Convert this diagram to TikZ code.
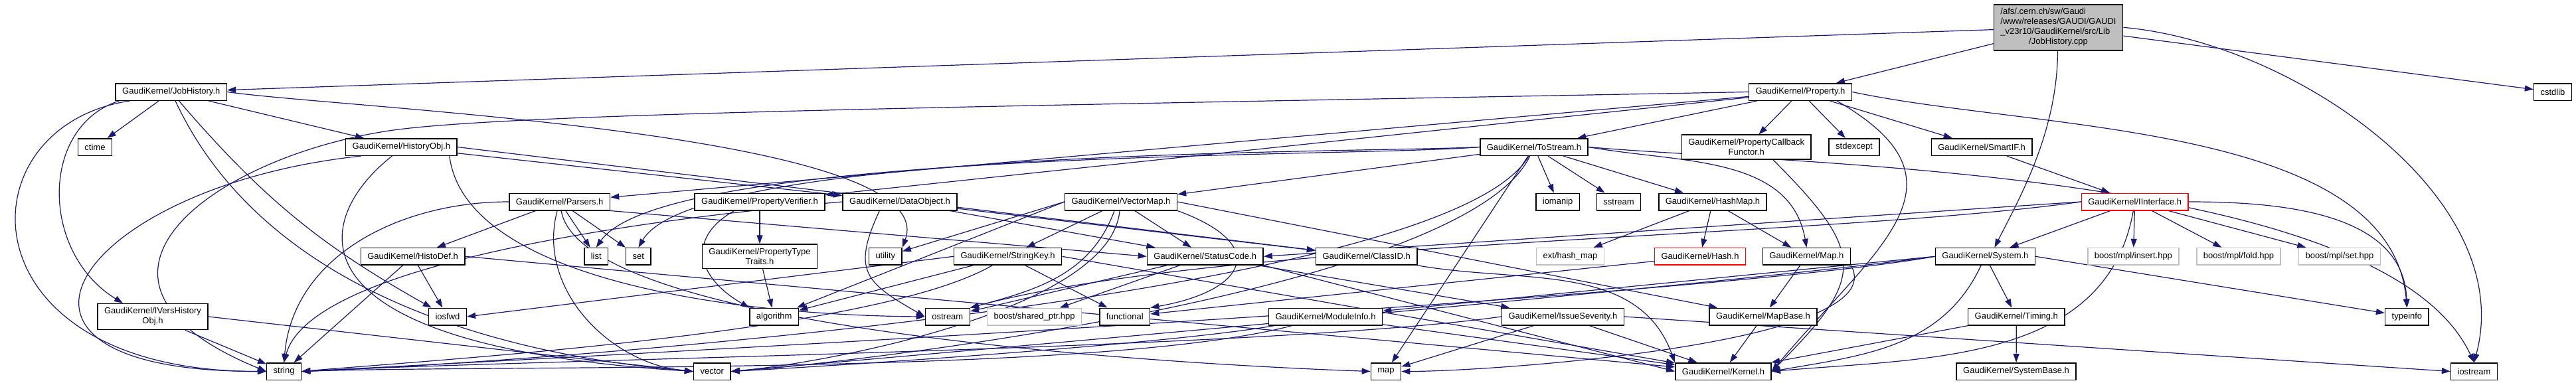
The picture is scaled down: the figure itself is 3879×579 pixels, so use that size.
\documentclass[tikz,border=0pt]{standalone}
\usepackage{fontspec}
\setmainfont{Liberation Sans}
\usetikzlibrary{arrows.meta,backgrounds}
\definecolor{depblue}{RGB}{25,25,112}
\definecolor{sysgray}{RGB}{191,191,191}

\begin{document}
\begin{tikzpicture}[x=0.5pt, y=-0.5pt,
		every node/.style={font=\fontsize{6.5}{7.5}\selectfont},
		hdr/.style={draw=black, line width=0.75pt, fill=white, inner xsep=5pt, inner ysep=0pt, minimum height=12.75pt},
		twoline/.style={hdr, align=center, inner ysep=3pt},
		sysinc/.style={hdr, draw=sysgray},
		trunc/.style={hdr, draw=red},
		dep/.style={depblue, line width=0.6pt, -{Triangle[length=6.5pt,width=4.5pt]}}]
		\useasboundingbox (0,0) rectangle (3879,579);

		% The source file
		\node[hdr, fill=sysgray, inner ysep=2.25pt] (root) at (3099.5,41.3)
			{\begin{tabular}{@{}l@{}}/afs/.cern.ch/sw/Gaudi\\/www/releases/GAUDI/GAUDI\\\_v23r10/GaudiKernel/src/Lib\\\multicolumn{1}{@{}c@{}}{/JobHistory.cpp}\end{tabular}};

		% Row 1
		\node[hdr] (jobhist) at (257.8,138.5) {GaudiKernel/JobHistory.h};
		\node[hdr] (prop) at (2711,138.5) {GaudiKernel/Property.h};
		\node[hdr] (cstdlib) at (3844,138.5) {cstdlib};

		% Row 2
		\node[hdr] (ctime) at (143,221.5) {ctime};
		\node[hdr] (histobj) at (604.4,221.5) {GaudiKernel/HistoryObj.h};
		\node[hdr] (tostream) at (2310,221.5) {GaudiKernel/ToStream.h};
		\node[twoline] (propcb) at (2629.7,221.5) {GaudiKernel/PropertyCallback\\Functor.h};
		\node[hdr] (stdexcept) at (2792,221.5) {stdexcept};
		\node[hdr] (smartif) at (2984,221.5) {GaudiKernel/SmartIF.h};

		% Row 3
		\node[hdr] (parsers) at (842.7,304) {GaudiKernel/Parsers.h};
		\node[hdr] (propverif) at (1144,304) {GaudiKernel/PropertyVerifier.h};
		\node[hdr] (dataobj) at (1355,304) {GaudiKernel/DataObject.h};
		\node[hdr] (vecmap) at (1688,304) {GaudiKernel/VectorMap.h};
		\node[hdr] (iomanip) at (2345.6,304) {iomanip};
		\node[hdr] (sstream) at (2437.5,304) {sstream};
		\node[hdr] (hashmap) at (2579,304) {GaudiKernel/HashMap.h};
		\node[trunc] (iiface) at (3214.7,304) {GaudiKernel/IInterface.h};

		% Row 4
		\node[hdr] (histodef) at (621.6,386.3) {GaudiKernel/HistoDef.h};
		\node[hdr] (list) at (897.7,386.3) {list};
		\node[hdr] (set) at (961.4,386.3) {set};
		\node[twoline] (proptt) at (1144,386.3) {GaudiKernel/PropertyType\\Traits.h};
		\node[hdr] (utility) at (1333.3,386.3) {utility};
		\node[hdr] (strkey) at (1517.6,386.3) {GaudiKernel/StringKey.h};
		\node[hdr] (statcode) at (1814.7,386.3) {GaudiKernel/StatusCode.h};
		\node[hdr] (classid) at (2057.7,386.3) {GaudiKernel/ClassID.h};
		\node[sysinc] (exthash) at (2364.5,386.3) {ext/hash\_map};
		\node[trunc] (hash) at (2560,386.3) {GaudiKernel/Hash.h};
		\node[hdr] (maph) at (2720.4,386.3) {GaudiKernel/Map.h};
		\node[hdr] (system) at (2989.4,386.3) {GaudiKernel/System.h};
		\node[sysinc] (mplinsert) at (3212.4,386.3) {boost/mpl/insert.hpp};
		\node[sysinc] (mplfold) at (3371,386.3) {boost/mpl/fold.hpp};
		\node[sysinc] (mplset) at (3522.9,386.3) {boost/mpl/set.hpp};

		% Row 5
		\node[twoline] (ivers) at (230,477) {GaudiKernel/IVersHistory\\Obj.h};
		\node[hdr] (iosfwd) at (674,477) {iosfwd};
		\node[hdr] (algorithm) at (1165.7,477) {algorithm};
		\node[hdr] (ostream) at (1426.8,477) {ostream};
		\node[sysinc] (sharedptr) at (1557.6,477) {boost/shared\_ptr.hpp};
		\node[hdr] (functional) at (1693.8,477) {functional};
		\node[hdr] (modinfo) at (1996,477) {GaudiKernel/ModuleInfo.h};
		\node[hdr] (issuesev) at (2353.4,477) {GaudiKernel/IssueSeverity.h};
		\node[hdr] (mapbase) at (2655,477) {GaudiKernel/MapBase.h};
		\node[hdr] (timing) at (3036.3,477) {GaudiKernel/Timing.h};
		\node[hdr] (typeinfo) at (3624.4,477) {typeinfo};

		% Row 6
		\node[hdr] (string) at (427.6,559.5) {string};
		\node[hdr] (vector) at (1072.3,559.5) {vector};
		\node[hdr] (map) at (2087,559.5) {map};
		\node[hdr] (kernel) at (2595,559.5) {GaudiKernel/Kernel.h};
		\node[hdr] (sysbase) at (3036,559.5) {GaudiKernel/SystemBase.h};
		\node[hdr] (iostream) at (3725.5,559.5) {iostream};

		\begin{scope}[on background layer]
		% Includes of the source file
		\draw[dep] (root) -- (jobhist);
		\draw[dep] (root) -- (prop);
		\draw[dep] ([xshift=-0.5pt]root.south) .. controls (3098,200) and (3040,300) .. ([xshift=7pt]system.north);
		\draw[dep] (root) -- (cstdlib);
		\draw[dep] (root.east) to[out=-5,in=75,looseness=0.9] (iostream.north);

		% JobHistory.h
		\draw[dep] (jobhist) -- (histobj);
		\draw[dep] (jobhist) -- (ctime);
		\draw[dep] (jobhist) to[bend right=10] (iosfwd);
		\draw[dep] (jobhist.east) to[out=-8,in=70,looseness=0.45] (utility.north east);
		\draw[dep] ([xshift=3pt]jobhist.south west) .. controls (60,190) and (60,380) .. ([xshift=-22.5pt]ivers.north);
		\draw[dep] ([xshift=11pt]jobhist.south west) .. controls (-60,190) and (-60,560) .. (string.west);
		\draw[dep] (jobhist) to[out=-65,in=175,looseness=0.9] (vector.west);

		% HistoryObj.h
		\draw[dep] (histobj) -- (dataobj);
		\draw[dep] (histobj.east) -- (classid);
		\draw[dep] ([xshift=12pt]histobj.south west) .. controls (120,280) and (-80,560) .. (string.west);
		\draw[dep] ([xshift=-7pt]histobj.south) .. controls (470,330) and (420,520) .. (vector.west);
		\draw[dep] ([xshift=-6pt]histobj.south east) .. controls (700,420) and (1100,475) .. (ostream.west);

		% IVersHistoryObj.h
		\draw[dep] (ivers) -- (string);
		\draw[dep] (ivers.east) -- (vector.west);

		% Property.h
		\draw[dep] (prop) -- (tostream);
		\draw[dep] (prop) -- (parsers);
		\draw[dep] (prop) -- (propverif);
		\draw[dep] (prop) -- (propcb);
		\draw[dep] (prop) -- (stdexcept);
		\draw[dep] (prop) -- (smartif);
		\draw[dep] (prop.west) .. controls (1500,160) and (800,170) .. (600,195)
			.. controls (330,230) and (60,420) .. (string.west);
		\draw[dep] ([xshift=27.5pt]prop.south) to[out=-30,in=50,looseness=1.5] (kernel.east);
		\draw[dep] (prop.east) to[out=-12,in=95,looseness=0.8] (typeinfo.north);

		% ToStream.h
		\draw[dep] (tostream) -- (iomanip);
		\draw[dep] (tostream) -- (sstream);
		\draw[dep] (tostream) -- (hashmap);
		\draw[dep] (tostream) -- (vecmap);
		\draw[dep] (tostream) -- (map);
		\draw[dep] (tostream.west) to[out=185,in=55,looseness=0.35] (list.north);
		\draw[dep] (tostream.west) to[out=183,in=60,looseness=0.35] (set.north);
		\draw[dep] (tostream.east) to[out=-10,in=100] (maph.north);
		\draw[dep] (tostream.east) to[out=-5,in=115,looseness=0.6] (iostream.north);
		\draw[dep] (tostream) to[out=-120,in=2,looseness=0.35] (string.east);
		\draw[dep] (tostream) to[out=-115,in=4,looseness=0.45] (vector.east);

		% Parsers.h
		\draw[dep] (parsers) -- (histodef);
		\draw[dep] (parsers) -- (list);
		\draw[dep] (parsers) -- (set);
		\draw[dep] (parsers.south east) -- (statcode.west);
		\draw[dep] (parsers.west) to[out=180,in=85] (string.north);
		\draw[dep] (parsers) to[out=-105,in=175] (vector.west);
		\draw[dep] (parsers) to[out=-80,in=178,looseness=0.4] (map.west);

		% HistoDef.h
		\draw[dep] (histodef) -- (iosfwd);
		\draw[dep] (histodef) -- (string);
		\draw[dep] (histodef.east) -- (kernel);

		% PropertyVerifier.h and PropertyTypeTraits.h
		\draw[dep] (propverif) -- (proptt);
		\draw[dep] ([xshift=30pt]propverif.south west) to[out=-150,in=150,looseness=1.5] (algorithm.north west);
		\draw[dep] (proptt) -- (algorithm);

		% DataObject.h
		\draw[dep] (dataobj) -- (classid);
		\draw[dep] (dataobj) -- (statcode);
		\draw[dep] (dataobj.west) to[out=185,in=75,looseness=0.5] (string.north);
		\draw[dep] ([xshift=28pt]dataobj.south west) to[out=-115,in=150,looseness=1.5] (ostream.west);

		% VectorMap.h
		\draw[dep] (vecmap) -- (strkey);
		\draw[dep] (vecmap) -- (statcode);
		\draw[dep] (vecmap.west) -- (utility);
		\draw[dep] (vecmap.west) -- (algorithm);
		\draw[dep] (vecmap.east) -- (mapbase);
		\draw[dep] ([xshift=-5pt]vecmap.south) to[out=-110,in=15] (ostream.north east);
		\draw[dep] ([xshift=-1pt]vecmap.south) to[out=-95,in=5,looseness=0.6] (vector.east);
		\draw[dep] (vecmap.south east) to[out=-20,in=10,looseness=2.5] (functional.north east);

		% StringKey.h
		\draw[dep] (strkey) -- (functional);
		\draw[dep] (strkey) -- (algorithm);
		\draw[dep] (strkey.west) -- (iosfwd.east);
		\draw[dep] (strkey) to[out=-150,in=5,looseness=0.5] (string.east);
		\draw[dep] (strkey.east) -- (kernel);

		% StatusCode.h
		\draw[dep] (statcode) -- (issuesev);
		\draw[dep] (statcode) -- (sharedptr);
		\draw[dep] (statcode) -- (ostream);
		\draw[dep] (statcode.south east) -- (kernel.west);

		% IssueSeverity.h
		\draw[dep] (issuesev) -- (map);
		\draw[dep] (issuesev) -- (kernel);
		\draw[dep] (issuesev.west) to[out=188,in=3,looseness=0.5] (string.east);
		\draw[dep] (issuesev.east) -- (iostream.west);

		% ModuleInfo.h
		\draw[dep] (modinfo) -- (kernel);
		\draw[dep] (modinfo) to[out=-165,in=2,looseness=0.5] (string.east);
		\draw[dep] (modinfo) to[out=-170,in=3,looseness=0.5] (vector.east);

		% ClassID.h, maps and hashes
		\draw[dep] (classid) to[out=-10,in=110] (kernel.north west);
		\draw[dep] (hashmap) -- (exthash);
		\draw[dep] (hashmap) -- (hash);
		\draw[dep] (hashmap) -- (maph);
		\draw[dep] (hash) -- (functional);
		\draw[dep] (maph) -- (mapbase);
		\draw[dep] (maph.south east) to[out=-60,in=0,looseness=0.5] (map.east);
		\draw[dep] (mapbase) -- (kernel);
		\draw[dep] ([xshift=20pt]propcb.south) to[out=-45,in=45,looseness=1.6] (kernel.east);
		\draw[dep] (smartif) -- (iiface);

		% IInterface.h
		\draw[dep] (iiface) -- (mplinsert);
		\draw[dep] (iiface) -- (mplfold);
		\draw[dep] (iiface) -- (mplset);
		\draw[dep] (iiface) -- (system);
		\draw[dep] (iiface.west) -- (statcode.east);
		\draw[dep] (iiface.west) to[out=188,in=15,looseness=0.6] (ostream.north east);
		\draw[dep] (iiface.east) to[out=0,in=92] (typeinfo.north);
		\draw[dep] (iiface) to[out=-100,in=5] (kernel.east);

		% System.h and Timing.h
		\draw[dep] (system) -- (timing);
		\draw[dep] (system.west) -- (modinfo);
		\draw[dep] (system.east) -- (typeinfo);
		\draw[dep] (system) to[out=-115,in=10] (kernel.east);
		\draw[dep] (system.west) .. controls (2534,453) and (840,539) .. (string.east);
		\draw[dep] (system.west) to[out=188,in=5,looseness=0.4] (vector.east);
		\draw[dep] (timing) -- (sysbase);
		\draw[dep] (timing) -- (kernel);
		\end{scope}
	\end{tikzpicture}
\end{document}
